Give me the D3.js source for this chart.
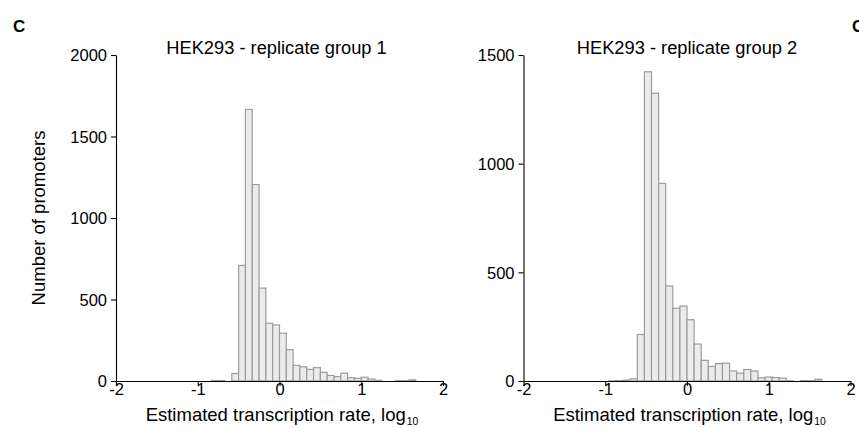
<!DOCTYPE html>
<html><head><meta charset="utf-8">
<script src="https://d3js.org/d3.v7.min.js"></script>
<style>
body{margin:0;background:#fff}
text{font-family:"Liberation Sans",Arial,Helvetica,sans-serif;fill:#000}
</style>
</head><body>
<svg id="chart" width="859" height="428"></svg>
<script>
// ---------- data ----------
const xTicks = [-2, -1, 0, 1, 2];
const yTicks1 = [0, 500, 1000, 1500, 2000];
const yTicks2 = [0, 500, 1000, 1500];
const titles = ["HEK293 - replicate group 1", "HEK293 - replicate group 2"];
const xLabel = "Estimated transcription rate, log";
const xLabelSub = "10";
const yLabel = "Number of promoters";
const panelLetters = ["C", "C"];

// group 1 histogram: bin width, index of first bin (bin k spans [k*w, (k+1)*w])
const binWidth1 = 1 / 12;
const firstBin1 = -10;
const counts1 = [3, 3, 0, 46, 709, 1666, 1205, 570, 354, 344, 293, 192, 96, 87, 71, 82, 53, 34, 27, 48, 20, 16, 23, 12, 4, 0, 0, 2, 2, 7];

// group 2 histogram
const binWidth2 = 0.0868;
const firstBin2 = -11;
const counts2 = [1, 2, 4, 10, 214, 1423, 1324, 909, 437, 335, 345, 282, 170, 95, 67, 80, 82, 46, 36, 53, 46, 15, 18, 16, 13, 1, 0, 2, 1, 8];

// ---------- drawing ----------
const svg = d3.select("#chart");

const panels = [
  {x0: 116, x1: 443, ymax: 2000, yTicks: yTicks1, counts: counts1, w: binWidth1, first: firstBin1, title: titles[0], titleX: 276.5, yLab: true, letterX: 13},
  {x0: 523.5, x1: 850.5, ymax: 1500, yTicks: yTicks2, counts: counts2, w: binWidth2, first: firstBin2, title: titles[1], titleX: 687, yLab: false, letterX: 852}
];
const yBottom = 381, yTop = 55;

panels.forEach((p, pi) => {
  const xs = d3.scaleLinear().domain([-2, 2]).range([p.x0, p.x1]);
  const ys = d3.scaleLinear().domain([0, p.ymax]).range([yBottom, yTop]);
  const bins = p.counts.map((c, i) => ({lo: (p.first + i) * p.w, hi: (p.first + i + 1) * p.w, c}));

  svg.append("g").selectAll("rect").data(bins).join("rect")
    .attr("x", d => xs(d.lo))
    .attr("width", d => xs(d.hi) - xs(d.lo))
    .attr("y", d => ys(d.c))
    .attr("height", d => ys(0) - ys(d.c))
    .attr("fill", "#ebebeb")
    .attr("stroke", "#9c9c9c")
    .attr("stroke-width", 1.2);

  // y axis
  const ya = svg.append("g").attr("transform", `translate(${p.x0},0)`)
    .call(d3.axisLeft(ys).tickValues(p.yTicks).tickSize(5).tickSizeOuter(0).tickFormat(d => String(d)));
  ya.select(".domain").attr("stroke", "#000").attr("stroke-width", 1.1);
  ya.selectAll(".tick line").attr("stroke", "#000").attr("stroke-width", 1.1);
  ya.selectAll(".tick text").attr("x", -9).attr("dy", "0.36em")
    .attr("font-size", 16.5).attr("font-family", null);

  // x axis
  const xa = svg.append("g").attr("transform", `translate(0,${yBottom})`)
    .call(d3.axisBottom(xs).tickValues(xTicks).tickSize(5).tickSizeOuter(0).tickFormat(d => String(d)));
  xa.select(".domain").attr("stroke", "#000").attr("stroke-width", 1.1);
  xa.selectAll(".tick line").attr("stroke", "#000").attr("stroke-width", 1.1);
  xa.selectAll(".tick text").attr("y", 14).attr("dy", 0)
    .attr("font-size", 16.5).attr("font-family", null);

  // title
  svg.append("text").attr("x", p.titleX).attr("y", 54)
    .attr("text-anchor", "middle").attr("font-size", 18.3).text(p.title);

  // x label with subscript
  const xl = svg.append("text").attr("y", 421).attr("font-size", 18.5).text(xLabel);
  const mainW = xl.node().getComputedTextLength();
  const sub = svg.append("text").attr("y", 424.5).attr("font-size", 10.4).text(xLabelSub);
  const subW = sub.node().getComputedTextLength();
  const total = mainW + 1 + subW;
  const startX = xs(0) + 2.5 - total / 2;
  xl.attr("x", startX);
  sub.attr("x", startX + mainW + 1);

  // y label
  if (p.yLab) {
    svg.append("text")
      .attr("transform", `translate(45,${(yBottom + yTop) / 2}) rotate(-90)`)
      .attr("text-anchor", "middle").attr("font-size", 18.5).text(yLabel);
  }

  // panel letter
  svg.append("text").attr("x", p.letterX).attr("y", 32)
    .attr("font-size", 17).attr("font-weight", "bold").text(panelLetters[pi]);
});
</script>
</body></html>
